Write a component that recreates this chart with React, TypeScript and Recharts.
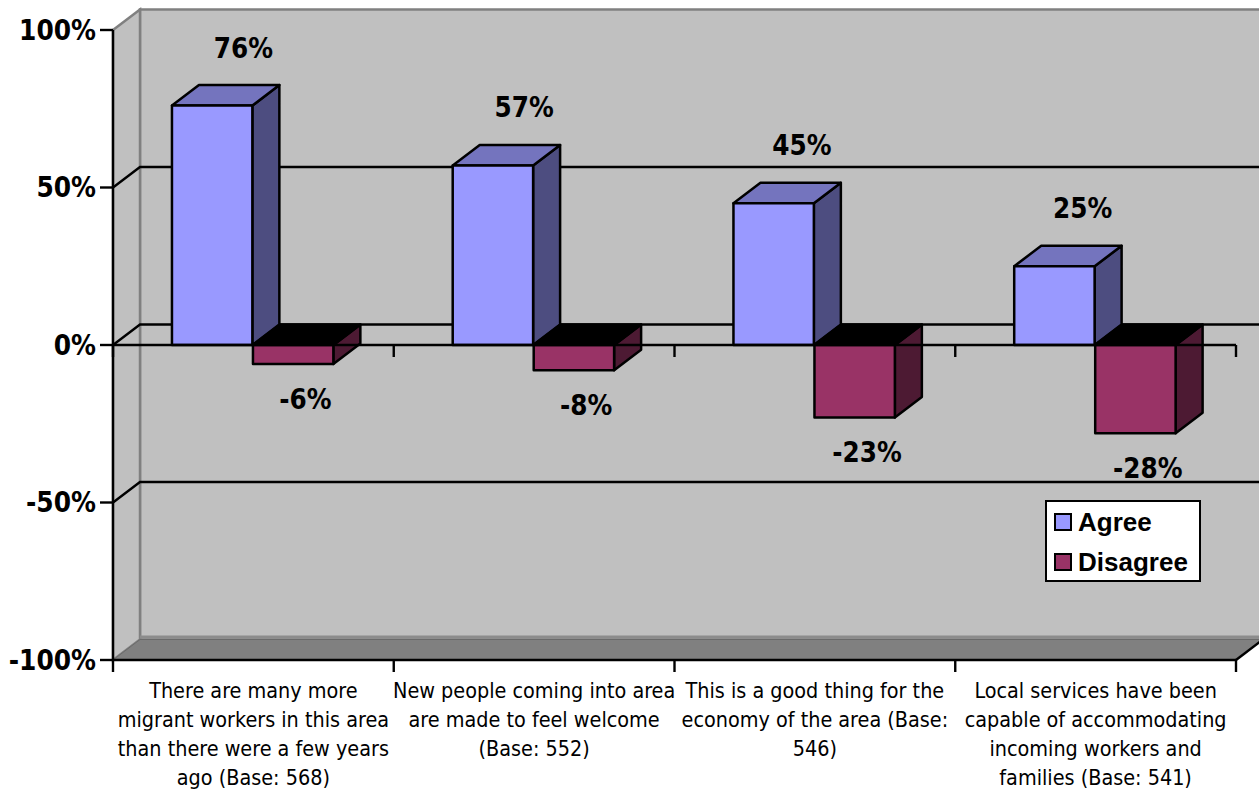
import React from "react";
import {
  Bar,
  CartesianGrid,
  ComposedChart,
  LabelList,
  Legend,
  ReferenceArea,
  ReferenceLine,
  XAxis,
  YAxis,
} from "recharts";

// Survey statements, one array of wrapped lines per category.
const statements: string[][] = [
  ["There are many more", "migrant workers in this area", "than there were a few years", "ago (Base: 568)"],
  ["New people coming into area", "are made to feel welcome", "(Base: 552)"],
  ["This is a good thing for the", "economy of the area (Base:", "546)"],
  ["Local services have been", "capable of accommodating", "incoming workers and", "families (Base: 541)"],
];
const agree = [76, 57, 45, 25];
const disagree = [-6, -8, -23, -28];
const yTicks = [-100, -50, 0, 50, 100];

const rows = statements.map((lines, i) => ({
  statement: lines.join(" "),
  agree: agree[i],
  disagree: disagree[i],
}));

// Projection of the pseudo-3D depth axis.
const DEPTH_X = 27;
const DEPTH_Y = 20.5;

const BODY_FONT = "'DejaVu Sans Condensed', 'Noto Sans', sans-serif";

// Back wall, side wall and floor of the box.
function Walls(props: any) {
  const { x, y, width, height } = props;
  const r = x + width;
  const b = y + height;
  const dx = DEPTH_X;
  const dy = DEPTH_Y;
  return (
    <g>
      <rect x={x + dx} y={y - dy} width={width} height={height} fill="#C0C0C0" stroke="#808080" strokeWidth={2.5} />
      <polygon
        points={`${x},${y} ${x + dx},${y - dy} ${x + dx},${b - dy} ${x},${b}`}
        fill="#C0C0C0"
        stroke="#808080"
        strokeWidth={2.5}
      />
      <polygon
        points={`${x},${b} ${x + dx},${b - dy} ${r + dx},${b - dy} ${r},${b}`}
        fill="#808080"
        stroke="#6A6A6A"
        strokeWidth={1}
      />
      <line x1={x + dx} y1={b - dy - 2.5} x2={r + dx} y2={b - dy - 2.5} stroke="#8C8C8C" strokeWidth={3} />
      <line x1={r} y1={b} x2={r + dx} y2={b - dy} stroke="#000" strokeWidth={2.5} />
    </g>
  );
}

// A grid line: runs along the back wall, then slants down the side wall.
function GridLine(props: any) {
  const { x1, x2, y1, y: top, height } = props;
  if (Math.abs(y1 - top) < 1 || Math.abs(y1 - (top + height)) < 1) return <g />;
  return (
    <g stroke="#000" strokeWidth={2.4} fill="none">
      <polyline points={`${x1},${y1} ${x1 + DEPTH_X},${y1 - DEPTH_Y} ${x2 + DEPTH_X},${y1 - DEPTH_Y}`} />
    </g>
  );
}

// Horizontal category axis line with tick marks between the categories.
function AxisRail(props: any) {
  const { x1, x2, y1 } = props;
  const step = (x2 - x1) / statements.length;
  return (
    <g stroke="#000" strokeWidth={2.4}>
      <line x1={x1} y1={y1} x2={x2} y2={y1} />
      {statements.map((_, i) => (
        <line key={i} x1={x1 + step * (i + 1)} y1={y1} x2={x1 + step * (i + 1)} y2={y1 + 12} />
      ))}
      <line x1={x1} y1={y1} x2={x1} y2={y1 + 12} />
    </g>
  );
}

// Extruded box for a single bar.
function makeBox(front: string, top: string, side: string) {
  return function Box(props: any) {
    const { x, y, width, height } = props;
    const t = Math.min(y, y + height);
    const h = Math.abs(height);
    const w = width - 0.6;
    const r = x + w;
    const dx = DEPTH_X;
    const dy = DEPTH_Y;
    return (
      <g stroke="#000" strokeWidth={2.5} strokeLinejoin="round">
        <polygon points={`${r},${t} ${r + dx},${t - dy} ${r + dx},${t + h - dy} ${r},${t + h}`} fill={side} />
        <polygon points={`${x},${t} ${x + dx},${t - dy} ${r + dx},${t - dy} ${r},${t}`} fill={top} />
        <rect x={x} y={t} width={w} height={h} fill={front} />
      </g>
    );
  };
}

const AgreeBox = makeBox("#9999FF", "#7474BE", "#4D4D80");
const DisagreeBox = makeBox("#993366", "#000000", "#4D1A33");

function ValueLabel(props: any) {
  const { x, y, width, height, value, index } = props;
  const above = value >= 0;
  const t = Math.min(y, y + height);
  const b = Math.max(y, y + height);
  const shift = above ? (index >= 2 ? 28 : 31) : 12;
  return (
    <text
      x={x + width / 2 + shift}
      y={above ? t - 58 : b + 35}
      textAnchor="middle"
      dominantBaseline="central"
      fontFamily={BODY_FONT}
      fontWeight={700}
      fontSize={27.5}
      fill="#000"
    >
      {value}%
    </text>
  );
}

function StatementTick(props: any) {
  const { x, index } = props;
  const lines = statements[index] ?? [];
  return (
    <text textAnchor="middle" fontFamily={BODY_FONT} fontSize={21.4} fill="#000">
      {lines.map((line, i) => (
        <tspan key={i} x={x} y={697.5 + i * 29.1}>
          {line}
        </tspan>
      ))}
    </text>
  );
}

function LegendBox({ payload }: any) {
  return (
    <div
      style={{
        boxSizing: "border-box",
        width: 156,
        height: 82,
        background: "#fff",
        border: "2.5px solid #000",
        padding: "0 0 0 7px",
        fontFamily: "'Liberation Sans', Arial, sans-serif",
        fontWeight: 700,
        fontSize: 26,
      }}
    >
      {(payload ?? []).map((item: any) => (
        <div key={item.value} style={{ display: "flex", alignItems: "center", height: 40 }}>
          <span
            style={{
              boxSizing: "border-box",
              width: 18,
              height: 18,
              background: item.color,
              border: "2.5px solid #000",
              marginRight: 6,
            }}
          />
          {item.value}
        </div>
      ))}
    </div>
  );
}

export default function App() {
  return (
    <div style={{ position: "absolute", left: 0, top: 0 }}>
      <ComposedChart
        width={1259}
        height={789}
        data={rows}
        margin={{ top: 30, right: 23, bottom: 0, left: 0 }}
        barCategoryGap="21%"
        barGap={0}
      >
        <ReferenceArea y1={-100} y2={100} shape={Walls} ifOverflow="visible" zIndex={-200} />
        <CartesianGrid vertical={false} horizontal={(p: any) => <GridLine key={p.key} {...p} />} />
        <XAxis
          dataKey="statement"
          height={129}
          interval={0}
          axisLine={false}
          tickLine={false}
          tick={(p: any) => <StatementTick {...p} />}
        />
        <YAxis
          width={113}
          domain={[-100, 100]}
          ticks={yTicks}
          tickFormatter={(v: number) => `${v}%`}
          tickSize={13}
          tickMargin={4}
          axisLine={{ stroke: "#000", strokeWidth: 2.4 }}
          tickLine={{ stroke: "#000", strokeWidth: 2.4 }}
          tick={{ fill: "#000", fontFamily: BODY_FONT, fontWeight: 700, fontSize: 27.7 }}
        />
        <Bar dataKey="agree" name="Agree" fill="#9999FF" shape={AgreeBox} isAnimationActive={false}>
          <LabelList dataKey="agree" content={ValueLabel} />
        </Bar>
        <Bar dataKey="disagree" name="Disagree" fill="#993366" shape={DisagreeBox} isAnimationActive={false}>
          <LabelList dataKey="disagree" content={ValueLabel} />
        </Bar>
        <ReferenceLine y={0} shape={AxisRail} />
        <ReferenceLine y={-100} shape={AxisRail} />
        <Legend
          layout="horizontal"
          verticalAlign="middle"
          content={<LegendBox />}
          wrapperStyle={{ position: "absolute", left: 1045, top: 500, width: 156, height: 82 }}
        />
      </ComposedChart>
    </div>
  );
}
